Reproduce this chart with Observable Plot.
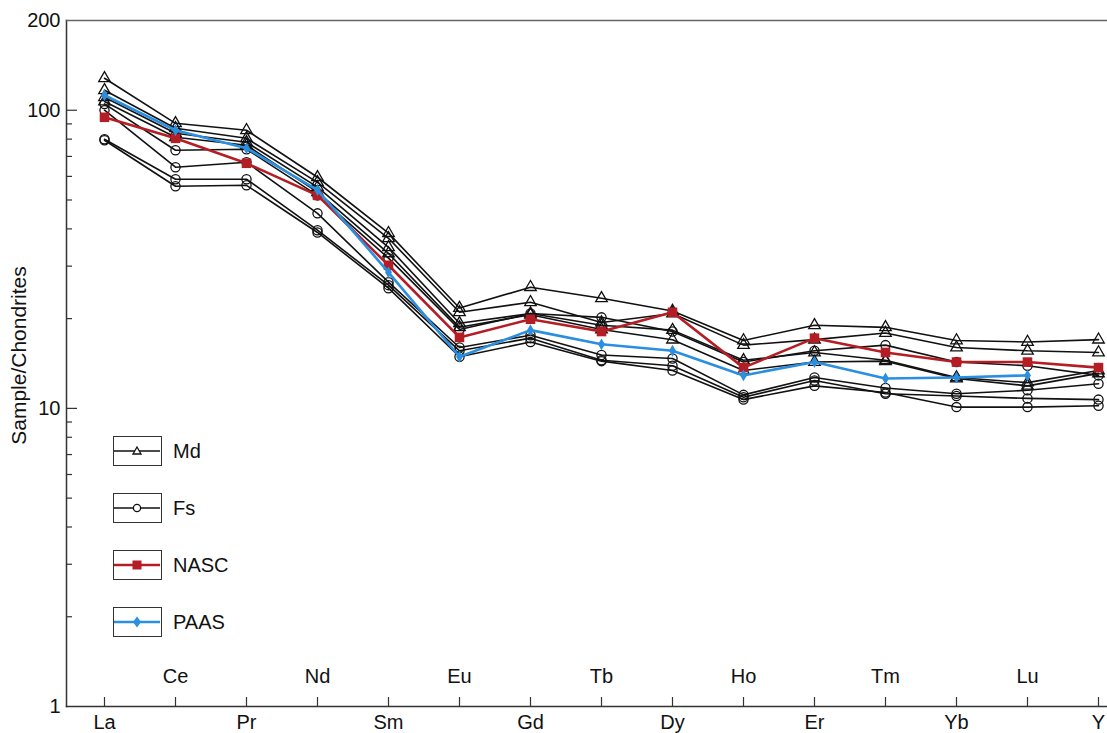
<!DOCTYPE html>
<html>
<head>
<meta charset="utf-8">
<script src="https://cdn.jsdelivr.net/npm/d3@7"></script>
<script src="https://cdn.jsdelivr.net/npm/@observablehq/plot@0.6"></script>
<style>
  html, body { margin: 0; padding: 0; background: #fff; overflow: hidden; }
  #wrap { position: relative; width: 1107px; height: 733px; font-family: "Liberation Sans", Arial, sans-serif; }
  .box { position: absolute; left: 113px; width: 49px; height: 30px; border: 1.5px solid #333; box-sizing: border-box; }
  .box svg { position: absolute; left: 0; top: 0; }
  .lab { position: absolute; left: 173px; font-size: 20px; line-height: 30px; color: #111; }
</style>
</head>
<body>
<div id="wrap"></div>
<script>
// REE categories
const elements = ["La","Ce","Pr","Nd","Sm","Eu","Gd","Tb","Dy","Ho","Er","Tm","Yb","Lu","Y"];
const bottomLabels = ["La","Pr","Sm","Gd","Dy","Er","Yb","Y"];
const topLabels = ["Ce","Nd","Eu","Tb","Ho","Tm","Lu"];

// Md samples (triangles)
const md1 = [128, 90.4, 85.7, 59.6, 38.7, 21.7, 25.5, 23.4, 21.2, 16.9, 19.0, 18.7, 16.9, 16.7, 17.0];
const md2 = [116.7, 87.0, 80.5, 57.3, 37.2, 21.0, 22.7, 19.4, 20.8, 16.3, 17.0, 17.9, 16.0, 15.6, 15.4];
const md3 = [110.6, 83.7, 78.1, 55.2, 34.7, 19.3, 20.8, 19.0, 18.3, 14.5, 15.4, 14.5, 12.7, 12.2, 13.4];
const md4 = [107, 81.2, 76.3, 53.1, 33.1, 18.7, 20.6, 18.4, 17.0, 13.4, 14.3, 14.4, 12.6, 11.9, 13.1];

// Fs samples (circles)
const fs1 = [105, 73.4, 74.0, 51.8, 31.9, 18.4, 20.8, 20.2, 18.1, 14.3, 15.6, 16.3, 14.3, 13.9, 12.9];
const fs2 = [100, 64.4, 66.9, 45.1, 26.5, 16.0, 17.6, 15.1, 14.7, 11.1, 12.7, 11.7, 11.2, 11.5, 12.1];
const fs3 = [79.9, 58.7, 58.7, 39.6, 25.9, 15.6, 17.2, 14.5, 13.9, 10.9, 12.4, 11.2, 11.0, 10.8, 10.7];
const fs4 = [79.3, 55.6, 56.0, 38.9, 25.3, 14.9, 16.7, 14.4, 13.4, 10.7, 11.9, 11.3, 10.1, 10.1, 10.2];

// Reference shales
const nasc = [94.7, 80.5, 66.4, 51.8, 30.2, 17.3, 19.9, 18.1, 21.0, 13.7, 17.2, 15.4, 14.3, 14.3, 13.7];
const paas = [112.3, 85.7, 74.6, 54.0, 28.6, 14.9, 18.3, 16.4, 15.6, 12.9, 14.3, 12.6, 12.7, 12.9, null];

// axis ticks
const majorTicks = [10, 100];
const minorTicks = [2,3,4,5,6,7,8,9,20,30,40,50,60,70,80,90];
const tickLabels = [1, 10, 100, 200];

const RED = "#b51d24";
const BLUE = "#2a8fe0";

function rowsOf(arr, name) {
  return elements.map((el, i) => ({el, v: arr[i], s: name})).filter(d => d.v != null);
}
const mdRows = [...rowsOf(md1,"md1"), ...rowsOf(md2,"md2"), ...rowsOf(md3,"md3"), ...rowsOf(md4,"md4")];
const fsRows = [...rowsOf(fs1,"fs1"), ...rowsOf(fs2,"fs2"), ...rowsOf(fs3,"fs3"), ...rowsOf(fs4,"fs4")];
const nascRows = rowsOf(nasc, "NASC");
const paasRows = rowsOf(paas, "PAAS");

const W = 1107, H = 733, mL = 66, mT = 20, mB = 27, mR = -29;
const plotW = W - mL - mR, plotH = H - mT - mB;

const chart = Plot.plot({
  width: W, height: H,
  marginLeft: mL, marginRight: mR, marginTop: mT, marginBottom: mB,
  style: {fontFamily: "Liberation Sans, Arial, sans-serif", fontSize: "20px", color: "#111", background: "white"},
  x: {type: "point", domain: elements, padding: 0.5, axis: null, label: null},
  y: {type: "log", domain: [1, 200], axis: null, label: null},
  marks: [
    // frame (left, top, bottom)
    Plot.frame({anchor: "left", stroke: "#333", strokeWidth: 1.5}),
    Plot.frame({anchor: "top", stroke: "#666", strokeWidth: 1.5}),
    Plot.frame({anchor: "bottom", stroke: "#333", strokeWidth: 1.5}),
    // y ticks (inward)
    Plot.tickY(minorTicks, {y: d => d, insetRight: plotW - 6, stroke: "#333", strokeWidth: 1.2}),
    Plot.tickY(majorTicks, {y: d => d, insetRight: plotW - 11, stroke: "#333", strokeWidth: 1.2}),
    Plot.axisY(tickLabels, {tickSize: 0, tickPadding: 6, tickFormat: d => String(d), fontSize: 20, label: null}),
    // x ticks (inward)
    Plot.tickX(elements, {x: d => d, insetTop: plotH - 9, stroke: "#333", strokeWidth: 1.2}),
    Plot.axisX(bottomLabels, {tickSize: 0, tickPadding: 8, fontSize: 20, label: null}),
    Plot.text(topLabels, {x: d => d, frameAnchor: "bottom", dy: -24, fontSize: 20, fill: "#111"}),
    // y label
    Plot.text(["Sample/Chondrites"], {text: d => d, frameAnchor: "left", textAnchor: "middle", rotate: -90, dx: -47, dy: -8, fontSize: 21, fill: "#111"}),
    // Md
    Plot.line(mdRows, {x: "el", y: "v", z: "s", stroke: "#111", strokeWidth: 1.6}),
    Plot.dot(mdRows, {x: "el", y: "v", symbol: "triangle", r: 4.3, stroke: "#111", strokeWidth: 1.3, fill: "none"}),
    // Fs
    Plot.line(fsRows, {x: "el", y: "v", z: "s", stroke: "#111", strokeWidth: 1.6}),
    Plot.dot(fsRows, {x: "el", y: "v", symbol: "circle", r: 4.6, stroke: "#111", strokeWidth: 1.3, fill: "none"}),
    // NASC
    Plot.line(nascRows, {x: "el", y: "v", stroke: RED, strokeWidth: 2.6}),
    Plot.dot(nascRows, {x: "el", y: "v", symbol: "square", r: 5.4, fill: RED, stroke: "none"}),
    // PAAS
    Plot.line(paasRows, {x: "el", y: "v", stroke: BLUE, strokeWidth: 2.6}),
    Plot.dot(paasRows, {x: "el", y: "v", symbol: "diamond", r: 3.6, fill: BLUE, stroke: "none"})
  ]
});

const wrap = document.getElementById("wrap");
wrap.appendChild(chart);

// legend (inside plot area)
const legend = [
  {name: "Md", top: 436, color: "#111", sw: 1.5, mk: "tri"},
  {name: "Fs", top: 493, color: "#111", sw: 1.5, mk: "circ"},
  {name: "NASC", top: 550, color: RED, sw: 2.6, mk: "sq"},
  {name: "PAAS", top: 607, color: BLUE, sw: 2.6, mk: "dia"}
];
for (const L of legend) {
  const box = document.createElement("div");
  box.className = "box";
  box.style.top = L.top + "px";
  let mk = "";
  if (L.mk === "tri") mk = `<path d="M23,10 L27,17 L19,17 Z" fill="white" stroke="#111" stroke-width="1.3"/>`;
  if (L.mk === "circ") mk = `<circle cx="23" cy="14" r="3.6" fill="white" stroke="#111" stroke-width="1.3"/>`;
  if (L.mk === "sq") mk = `<rect x="18.5" y="9.5" width="9" height="9" fill="${RED}"/>`;
  if (L.mk === "dia") mk = `<path d="M23,8.5 L27,14 L23,19.5 L19,14 Z" fill="${BLUE}"/>`;
  box.innerHTML = `<svg width="46" height="27" viewBox="0 0 46 27"><line x1="0" x2="46" y1="14" y2="14" stroke="${L.color}" stroke-width="${L.sw}"/>${mk}</svg>`;
  wrap.appendChild(box);
  const lab = document.createElement("div");
  lab.className = "lab";
  lab.style.top = L.top + "px";
  lab.textContent = L.name;
  wrap.appendChild(lab);
}
</script>
</body>
</html>
